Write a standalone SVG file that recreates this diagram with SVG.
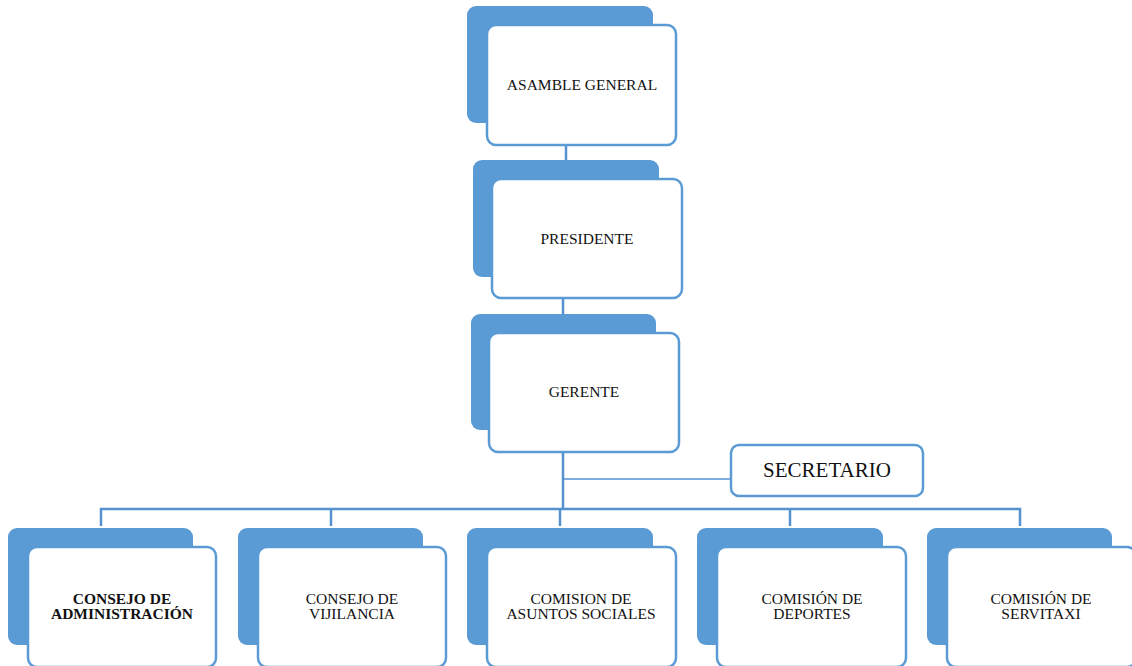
<svg xmlns="http://www.w3.org/2000/svg" width="1132" height="666" viewBox="0 0 1132 666">
<style>
.back{fill:#5b9bd5;}
.front{fill:#ffffff;stroke:#5b9bd5;stroke-width:2.5;}
.conn{fill:none;stroke:#5590cf;stroke-width:2.5;}
.thin{fill:none;stroke:#5590cf;stroke-width:1.3;}
text{font-family:"Liberation Serif","Times New Roman",serif;fill:#111;text-anchor:middle;}
.t{font-size:15.5px;}
.b{font-size:15.5px;font-weight:bold;}
.big{font-size:21px;}
</style>
<rect width="1132" height="666" fill="#ffffff"/>
<g id="connectors">
<line class="conn" x1="566" y1="145" x2="566" y2="179"/>
<line class="conn" x1="563" y1="298" x2="563" y2="333"/>
<line class="conn" x1="563" y1="452" x2="563" y2="510"/>
<line class="thin" x1="563" y1="479" x2="731" y2="479"/>
<polyline class="conn" points="101,526 101,509 1020,509 1020,526"/>
<line class="conn" x1="331" y1="509" x2="331" y2="526"/>
<line class="conn" x1="560" y1="509" x2="560" y2="526"/>
<line class="conn" x1="790" y1="509" x2="790" y2="526"/>
</g>
<g id="asamble">
<rect class="back" x="467" y="6" width="186" height="117" rx="9"/>
<rect class="front" x="487" y="25" width="189" height="120" rx="9"/>
<text class="t" x="582" y="90">ASAMBLE GENERAL</text>
</g>
<g id="presidente">
<rect class="back" x="473" y="160" width="186" height="117" rx="9"/>
<rect class="front" x="492" y="179" width="190" height="119" rx="9"/>
<text class="t" x="587" y="244">PRESIDENTE</text>
</g>
<g id="gerente">
<rect class="back" x="471" y="314" width="185" height="116" rx="9"/>
<rect class="front" x="489" y="333" width="190" height="119" rx="9"/>
<text class="t" x="584" y="397">GERENTE</text>
</g>
<g id="secretario">
<rect class="front" x="731" y="445" width="192" height="51" rx="8"/>
<text class="big" x="827" y="477">SECRETARIO</text>
</g>
<g id="consejo-admin">
<rect class="back" x="8" y="528" width="185" height="117" rx="9"/>
<rect class="front" x="28" y="547" width="188" height="120" rx="9"/>
<text class="b" x="122" y="604">CONSEJO DE</text>
<text class="b" x="122" y="619">ADMINISTRACIÓN</text>
</g>
<g id="consejo-vigilancia">
<rect class="back" x="238" y="528" width="185" height="117" rx="9"/>
<rect class="front" x="258" y="547" width="188" height="120" rx="9"/>
<text class="t" x="352" y="604">CONSEJO DE</text>
<text class="t" x="352" y="619">VIJILANCIA</text>
</g>
<g id="comision-sociales">
<rect class="back" x="467" y="528" width="186" height="117" rx="9"/>
<rect class="front" x="487" y="547" width="189" height="120" rx="9"/>
<text class="t" x="581" y="604">COMISION DE</text>
<text class="t" x="581" y="619">ASUNTOS SOCIALES</text>
</g>
<g id="comision-deportes">
<rect class="back" x="697" y="528" width="186" height="117" rx="9"/>
<rect class="front" x="717" y="547" width="189" height="120" rx="9"/>
<text class="t" x="812" y="604">COMISIÓN DE</text>
<text class="t" x="812" y="619">DEPORTES</text>
</g>
<g id="comision-servitaxi">
<rect class="back" x="927" y="528" width="185" height="117" rx="9"/>
<rect class="front" x="947" y="547" width="189" height="120" rx="9"/>
<text class="t" x="1041" y="604">COMISIÓN DE</text>
<text class="t" x="1041" y="619">SERVITAXI</text>
</g>
</svg>
